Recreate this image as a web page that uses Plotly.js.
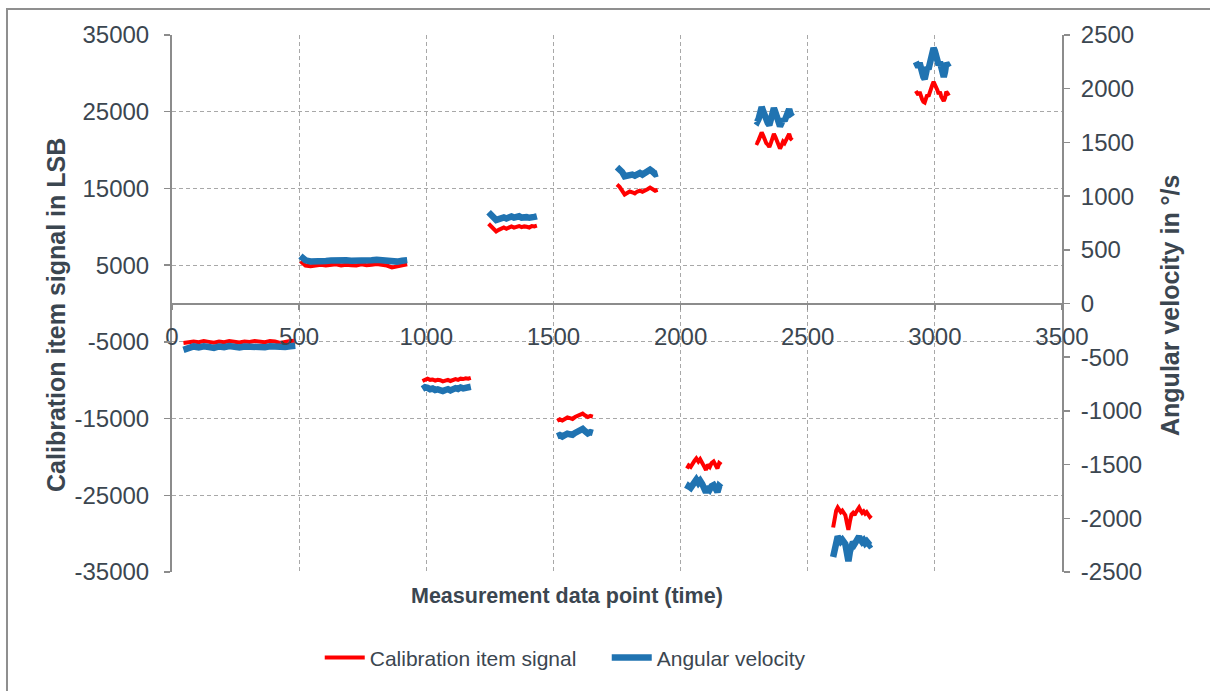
<!DOCTYPE html>
<html><head><meta charset="utf-8">
<script src="https://cdn.plot.ly/plotly-3.0.1.min.js"></script>
<style>html,body{margin:0;padding:0;background:#fff}#chart{width:1210px;height:691px}</style>
</head><body><div id="chart"></div>
<script>
// Measurement data point (time); null separates the measurement blocks
const time = [
  45,65,85,105,125,145,165,185,205,225,245,265,285,305,325,345,365,385,405,425,445,465,485, null,
  505,525,545,565,585,605,625,645,665,685,705,725,745,765,785,805,825,845,865,885,905,925, null,
  985,995,1005,1015,1025,1035,1045,1055,1065,1075,1085,1095,1105,1115,1125,1135,1145,1155,1165,1175, null,
  1245,1255,1265,1275,1285,1295,1305,1315,1325,1335,1345,1355,1365,1375,1385,1395,1405,1415,1425,1435, null,
  1515,1525,1535,1545,1555,1565,1575,1585,1595,1605,1615,1625,1635,1645,1655, null,
  1750,1760,1770,1780,1790,1800,1810,1820,1830,1840,1850,1860,1870,1880,1890,1900,1910, null,
  2025,2032,2040,2047,2055,2062,2070,2077,2085,2092,2100,2107,2115,2122,2130,2137,2145,2152,2160, null,
  2295,2301,2307,2313,2319,2325,2331,2337,2343,2349,2355,2361,2367,2373,2379,2385,2391,2397,2403,2409,2415,2421,2427,2433,2439, null,
  2600,2606,2612,2618,2624,2630,2636,2642,2648,2654,2660,2666,2672,2678,2684,2690,2696,2702,2708,2714,2720,2726,2732,2738,2744,2750, null,
  2925,2930,2935,2940,2945,2950,2955,2960,2965,2970,2975,2980,2985,2990,2995,3000,3005,3010,3015,3020,3025,3030,3035,3040,3045,3050,3055
];
// Calibration item signal in LSB (left axis)
const calibrationSignal = [
  -5150,-5050,-4950,-5050,-4900,-5000,-5100,-4950,-5050,-4900,-5000,-5080,-4950,-5020,-4900,-4980,-5050,-4900,-4950,-5150,-5000,-4900,-4850, null,
  5500,4950,4850,4950,5050,4950,5000,5100,4950,5050,5000,4950,5100,5000,5050,5150,5050,4950,4700,4850,5000,5100, null,
  -10100,-9900,-9800,-9950,-9900,-10050,-9950,-10000,-10150,-10050,-9950,-10100,-9900,-9850,-9950,-9800,-9850,-9750,-9800,-9700, null,
  10400,10100,9700,9400,9600,9800,9900,9750,9950,10050,9900,10000,10100,9950,10050,10000,9900,10100,10050,10150, null,
  -15300,-15100,-15250,-15000,-14850,-14950,-15050,-14800,-14650,-14500,-14350,-14600,-14800,-14650,-14750, null,
  15500,15200,14700,14200,14400,14600,14500,14350,14600,14700,14550,14800,14900,15100,14950,14700,14800, null,
  -21500,-21100,-21300,-20800,-20500,-20200,-20600,-20300,-20700,-21200,-21700,-21000,-21300,-20800,-20600,-21000,-21500,-20800,-21000, null,
  21000,20900,21300,21700,22300,21900,21300,20900,20700,20400,20900,21500,22100,21700,21100,20700,20200,20600,21100,20900,21400,21900,22100,21500,21300, null,
  -29200,-28000,-27000,-26600,-26900,-27200,-27000,-27400,-27600,-28600,-29500,-28400,-27500,-27300,-27600,-27200,-26900,-26600,-27000,-27300,-27100,-27400,-27200,-27500,-27800,-27600, null,
  27700,27500,27200,27600,26900,26600,26300,26200,26700,27200,27000,27600,28000,28500,28900,28600,28200,27800,27300,27600,27000,26700,26400,26800,27600,27400,27100
];
// Angular velocity in °/s (right axis)
const angularVelocity = [
  -432,-412,-400,-408,-398,-405,-413,-400,-407,-397,-403,-410,-400,-405,-396,-402,-408,-398,-402,-414,-404,-398,-394, null,
  442,402,392,398,403,396,400,405,397,402,399,396,404,400,402,407,402,396,381,390,398,404, null,
  -795,-780,-785,-798,-792,-805,-800,-808,-815,-805,-798,-810,-795,-788,-795,-782,-790,-780,-784,-775, null,
  850,830,800,778,786,796,802,792,805,810,800,806,812,800,808,804,798,810,806,812, null,
  -1235,-1225,-1238,-1222,-1212,-1218,-1222,-1205,-1192,-1180,-1168,-1190,-1210,-1198,-1205, null,
  1270,1250,1225,1185,1195,1205,1200,1190,1210,1215,1200,1220,1230,1245,1228,1205,1212, null,
  -1730,-1700,-1715,-1680,-1660,-1640,-1670,-1650,-1680,-1720,-1760,-1705,-1730,-1700,-1690,-1720,-1755,-1700,-1715, null,
  1700,1690,1720,1760,1830,1790,1740,1700,1680,1660,1700,1760,1820,1780,1720,1690,1650,1680,1720,1700,1740,1790,1810,1760,1740, null,
  -2360,-2280,-2200,-2170,-2190,-2215,-2200,-2225,-2240,-2320,-2400,-2310,-2235,-2220,-2240,-2215,-2190,-2170,-2200,-2220,-2205,-2230,-2215,-2235,-2250,-2240, null,
  2250,2230,2200,2240,2180,2150,2110,2090,2140,2200,2180,2240,2280,2330,2380,2350,2300,2260,2220,2250,2190,2150,2110,2160,2240,2220,2200
];
const xTicks = [0,500,1000,1500,2000,2500,3000,3500];
const leftTicks = [-35000,-25000,-15000,-5000,5000,15000,25000,35000];
const rightTicks = [-2500,-2000,-1500,-1000,-500,0,500,1000,1500,2000,2500];
const seriesNames = ['Calibration item signal','Angular velocity'];

const FONT = 'Liberation Sans, Arial, sans-serif';
const textColor = '#3b4650';
const axisColor = '#8c8c8c';
const gridColor = '#a8a8a8';

const traces = [
  {x: time, y: calibrationSignal, name: seriesNames[0], type: 'scatter', mode: 'lines',
   line: {color: '#ff0000', width: 4}, connectgaps: false, yaxis: 'y'},
  {x: time, y: angularVelocity, name: seriesNames[1], type: 'scatter', mode: 'lines',
   line: {color: '#2073b1', width: 6.5}, connectgaps: false, yaxis: 'y2'}
];

const layout = {
  width: 1210, height: 691,
  margin: {l: 172, r: 148, t: 35, b: 117, pad: 0},
  paper_bgcolor: '#ffffff', plot_bgcolor: '#ffffff',
  font: {family: FONT, size: 24, color: textColor},
  showlegend: true,
  legend: {orientation: 'h', x: 0.166, y: -0.16, xanchor: 'left', yanchor: 'middle',
           itemwidth: 40, entrywidth: 232, entrywidthmode: 'pixels',
           font: {size: 21, color: textColor}, bgcolor: 'rgba(0,0,0,0)', traceorder: 'normal'},
  xaxis: {range: [0, 3500], tickvals: xTicks, ticktext: xTicks.map(String),
          anchor: 'free', position: 0.5, showline: true, linecolor: axisColor, linewidth: 2,
          ticks: 'outside', ticklen: 5, tickwidth: 1.5, tickcolor: axisColor,
          showgrid: true, gridcolor: gridColor, gridwidth: 1, griddash: '4px,3px',
          zeroline: false, tickfont: {size: 24, color: textColor}, ticklabelstandoff: 7, fixedrange: true},
  yaxis: {range: [-35000, 35000], tickvals: leftTicks, ticktext: leftTicks.map(String),
          showline: true, linecolor: axisColor, linewidth: 2,
          ticks: 'outside', ticklen: 6, tickwidth: 1.5, tickcolor: axisColor,
          showgrid: true, gridcolor: gridColor, gridwidth: 1, griddash: '4px,3px',
          zeroline: false, tickfont: {size: 24, color: textColor}, ticklabelstandoff: 10, fixedrange: true},
  yaxis2: {range: [-2500, 2500], tickvals: rightTicks, ticktext: rightTicks.map(String),
           overlaying: 'y', side: 'right', showline: true, linecolor: axisColor, linewidth: 2,
           ticks: 'outside', ticklen: 6, tickwidth: 1.5, tickcolor: axisColor,
           showgrid: false, zeroline: false, tickfont: {size: 24, color: textColor},
           ticklabelstandoff: 6, fixedrange: true},
  shapes: [
    {type: 'rect', xref: 'paper', yref: 'paper', x0: -0.1854, x1: 1.18, y0: -0.25, y1: 1.0482,
     line: {color: '#8f8f8f', width: 2}, fillcolor: 'rgba(0,0,0,0)', layer: 'below'}
  ],
  annotations: [
    {text: '<b>Measurement data point (time)</b>', xref: 'paper', yref: 'paper',
     x: 0.4433, y: -0.045, xanchor: 'center', yanchor: 'middle', showarrow: false,
     font: {size: 21.5, color: textColor, family: FONT}},
    {text: '<b>Calibration item signal in LSB</b>', xref: 'paper', yref: 'paper', textangle: -90,
     x: (56 - 172) / 890, y: (574 - 316) / 539, xanchor: 'center', yanchor: 'middle', showarrow: false,
     font: {size: 25, color: textColor, family: FONT}},
    {text: '<b>Angular velocity in °/s</b>', xref: 'paper', yref: 'paper', textangle: -90,
     x: (1170 - 172) / 890, y: (574 - 307) / 539, xanchor: 'center', yanchor: 'middle', showarrow: false,
     font: {size: 25, color: textColor, family: FONT}}
  ]
};

Plotly.newPlot('chart', traces, layout, {staticPlot: true, displayModeBar: false});
</script>
</body></html>
